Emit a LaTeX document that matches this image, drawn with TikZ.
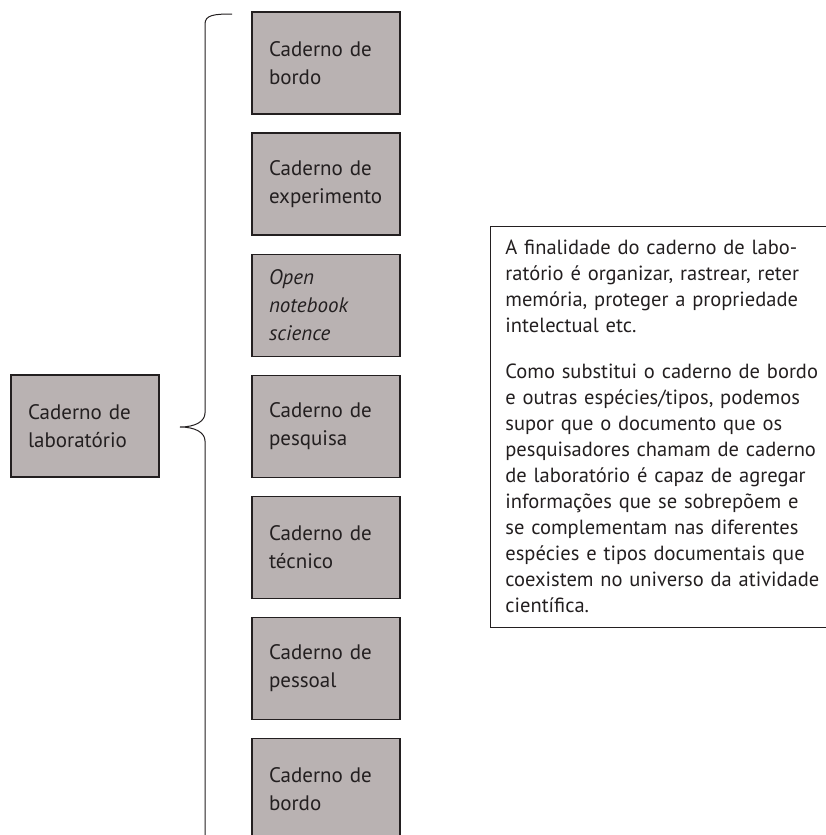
\documentclass[tikz,border=0pt]{standalone}
\usepackage{fontspec}
\setmainfont{PT Sans}
\usetikzlibrary{positioning}
\definecolor{boxgray}{RGB}{185,178,178}
\definecolor{ink}{RGB}{35,31,32}
\newcommand{\jl}[1]{\leavevmode\hbox to 318pt{#1}}

\begin{document}
\begin{tikzpicture}[x=1pt,y=-1pt,
  kind/.style={draw=ink,line width=1.3pt,fill=boxgray,minimum width=148pt,minimum height=102pt,
    text width=114pt,inner xsep=17pt,inner ysep=0pt,align=left,text=ink,font=\fontsize{21}{28}\selectfont},
  note/.style={draw=ink,line width=0.8pt,text width=318pt,inner xsep=15pt,inner ysep=14pt,
    align=left,text=ink,font=\fontsize{20.5}{26}\selectfont}]
\useasboundingbox (0,0) rectangle (826,835);
% main node
\node[kind] (lab) at (85,426) {Caderno de\\laboratório};
% the seven kinds of notebook
\foreach \t [count=\i] in {{Caderno de\\bordo},{Caderno de\\experimento},{\itshape Open\\notebook\\science},
  {Caderno de\\pesquisa},{Caderno de\\técnico},{Caderno de\\pessoal},{Caderno de\\bordo}}
  \node[kind] (c\i) at (326,63+121.1*\i-121.1) {\t};
% brace
\coordinate (tip) at (180,427);
\draw[ink,line width=1pt] (232,14) .. controls (214,14) and (205,15) .. (205,24) -- (205,413)
  .. controls (205,421) and (196,427) .. (tip) .. controls (196,427) and (205,433) .. (205,441) -- (205,840);
% comment box
\node[note,anchor=north west] (fin) at (490,226) {%
\jl{A finalidade do caderno de labo-}\\
\jl{ratório é organizar, rastrear, reter}\\
\jl{memória, proteger a propriedade}\\
intelectual etc.\\[20pt]
\jl{Como substitui o caderno de bordo}\\
\jl{e outras espécies/tipos, podemos}\\
\jl{supor que o documento que os}\\
\jl{pesquisadores chamam de caderno}\\
\jl{de laboratório é capaz de agregar}\\
\jl{informações que se sobrepõem e}\\
\jl{se complementam nas diferentes}\\
\jl{espécies e tipos documentais que}\\
\jl{coexistem no universo da atividade}\\
científica.};
\end{tikzpicture}
\end{document}
